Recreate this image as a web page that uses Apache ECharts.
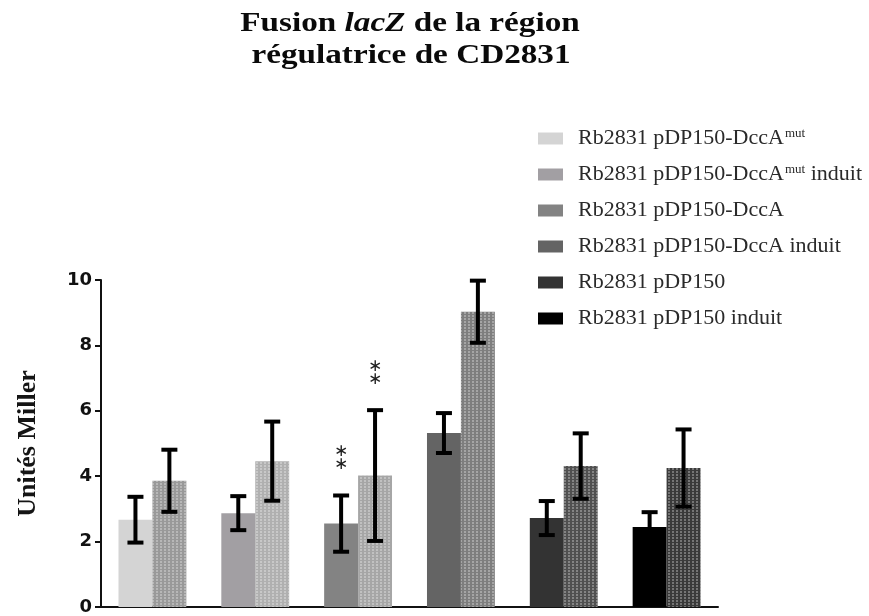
<!DOCTYPE html>
<html>
<head>
<meta charset="utf-8">
<script src="https://cdn.jsdelivr.net/npm/echarts@6/dist/echarts.min.js"></script>
<style>html,body{margin:0;padding:0;background:#fff}#c{width:869px;height:616px}</style>
</head>
<body>
<div id="c"></div>
<script>
// ---------- data ----------
var categories = ['DccAmut', 'DccAmut induit', 'DccA', 'DccA induit', 'pDP150', 'pDP150 induit'];
var solidValues   = [2.67, 2.87, 2.55, 5.32, 2.72, 2.45];
var solidErrors   = [0.70, 0.52, 0.86, 0.61, 0.52, 0.45];
var patternValues = [3.86, 4.46, 4.02, 9.03, 4.31, 4.25];
var patternErrors = [0.95, 1.21, 2.00, 0.95, 1.00, 1.18];
var solidSig   = ['', '', '**', '', '', ''];
var patternSig = ['', '', '**', '', '', ''];
var yTicks = [0, 2, 4, 6, 8, 10];
var legendMain = ['Rb2831 pDP150-DccA', 'Rb2831 pDP150-DccA', 'Rb2831 pDP150-DccA', 'Rb2831 pDP150-DccA induit', 'Rb2831 pDP150', 'Rb2831 pDP150 induit'];
var legendSup  = ['mut', 'mut', '', '', '', ''];
var legendTail = ['', ' induit', '', '', '', ''];

// ---------- styles ----------
var solidColors   = ['#d4d4d4', '#a29fa3', '#838383', '#646464', '#333333', '#000000'];
var patternColors = ['#999999', '#b0b0b0', '#a6a6a6', '#7e7e7e', '#505050', '#3a3a3a'];
var BAR_FRAC = 0.33;

var legendNames = legendMain.map(function (m, i) { return m + legendSup[i] + legendTail[i]; });
var legendRich = {};
legendNames.forEach(function (n, i) {
  legendRich[n] = '{g|}{m|' + legendMain[i] + '}' + (legendSup[i] ? '{s|' + legendSup[i] + '}' : '') + (legendTail[i] ? '{m|' + legendTail[i] + '}' : '');
});

var errData = [];
categories.forEach(function (c, i) {
  errData.push([i, solidValues[i], solidErrors[i], 0, solidSig[i]]);
  errData.push([i, patternValues[i], patternErrors[i], 1, patternSig[i]]);
});

var chart = echarts.init(document.getElementById('c'), null, { renderer: 'canvas' });

var legendSeries = legendNames.map(function (n, i) {
  return { name: n, type: 'bar', xAxisIndex: 1, yAxisIndex: 1, data: [], itemStyle: { color: solidColors[i] } };
});

var option = {
  animation: false,
  backgroundColor: '#ffffff',
  graphic: [
    { type: 'text', x: 410, y: 24, scaleX: 1.23, z: 10,
      style: { text: '{b|Fusion }{i|lacZ}{b| de la région}', align: 'center', verticalAlign: 'middle',
        rich: { b: { fontFamily: 'Liberation Serif', fontWeight: 'bold', fontSize: 27, fill: '#0a0a0a' },
                i: { fontFamily: 'Liberation Serif', fontWeight: 'bold', fontStyle: 'italic', fontSize: 27, fill: '#0a0a0a' } } } },
    { type: 'text', x: 411, y: 56, scaleX: 1.23, z: 10,
      style: { text: 'régulatrice de CD2831', align: 'center', verticalAlign: 'middle',
        fontFamily: 'Liberation Serif', fontWeight: 'bold', fontSize: 27, fill: '#0a0a0a' } }
  ],
  legend: {
    orient: 'vertical', left: 538, top: 127, padding: 0,
    itemWidth: 25, itemHeight: 12, itemGap: 13, icon: 'rect',
    data: legendNames,
    formatter: function (n) { return legendRich[n]; },
    textStyle: {
      color: '#2a2a2a', fontFamily: 'Liberation Serif', fontSize: 22, lineHeight: 23,
      rich: {
        g: { width: 10, lineHeight: 23 },
        m: { fontFamily: 'Liberation Serif', fontSize: 22, lineHeight: 23, color: '#2a2a2a' },
        s: { fontFamily: 'Liberation Serif', fontSize: 13, lineHeight: 23, verticalAlign: 'top', color: '#2a2a2a', padding: [0, 0, 8, 1] }
      }
    }
  },
  grid: { left: 101, right: 151, top: 280, bottom: 8, containLabel: false },
  xAxis: [
    { type: 'category', data: categories, boundaryGap: true,
      axisLine: { lineStyle: { color: '#111', width: 2 } },
      axisTick: { alignWithLabel: true, length: 5, lineStyle: { color: '#111', width: 2 } },
      axisLabel: { show: false }, splitLine: { show: false } },
    { type: 'category', data: [], show: false, gridIndex: 0 }
  ],
  yAxis: [
    { type: 'value', min: 0, max: 10, interval: 2,
      name: 'Unités Miller', nameLocation: 'middle', nameGap: 60,
      nameTextStyle: { fontFamily: 'Liberation Serif', fontWeight: 'bold', fontSize: 26, color: '#151515' },
      axisLine: { show: true, lineStyle: { color: '#111', width: 2 } },
      axisTick: { show: true, length: 6, lineStyle: { color: '#111', width: 2 } },
      axisLabel: { margin: 9, fontFamily: 'DejaVu Sans', fontWeight: 'bold', fontSize: 18, color: '#111',
        formatter: function (v) { return yTicks.indexOf(v) >= 0 ? String(v) : ''; } },
      splitLine: { show: false } },
    { type: 'value', show: false, gridIndex: 0 }
  ],
  series: [
    { name: 'solid', type: 'bar', barWidth: (BAR_FRAC * 100) + '%', barGap: '0%',
      data: solidValues.map(function (v, i) { return { value: v, itemStyle: { color: solidColors[i] } }; }) },
    { name: 'pattern', type: 'bar', barWidth: (BAR_FRAC * 100) + '%', barGap: '0%',
      itemStyle: { decal: { symbol: 'rect', symbolSize: 1, dashArrayX: [[2, 2]], dashArrayY: [2, 1], color: 'rgba(255,255,255,0.30)', rotation: 0 } },
      data: patternValues.map(function (v, i) { return { value: v, itemStyle: { color: patternColors[i] } }; }) },
    { name: 'err', type: 'custom', z: 5, data: errData,
      renderItem: function (params, api) {
        var ci = api.value(0), v = api.value(1), e = api.value(2), side = api.value(3);
        var sig = errData[params.dataIndex][4];
        var band = api.size([1, 0])[0];
        var bw = band * BAR_FRAC;
        var cx = api.coord([ci, 0])[0] + (side === 0 ? -bw / 2 : bw / 2);
        var yT = api.coord([ci, v + e])[1];
        var yB = api.coord([ci, v - e])[1];
        var st = { stroke: '#000', lineWidth: 4 };
        var kids = [
          { type: 'line', shape: { x1: cx, y1: yT, x2: cx, y2: yB }, style: st },
          { type: 'line', shape: { x1: cx - 8, y1: yT, x2: cx + 8, y2: yT }, style: st },
          { type: 'line', shape: { x1: cx - 8, y1: yB, x2: cx + 8, y2: yB }, style: st }
        ];
        if (sig) {
          var stars = sig.split('').map(function () { return '\u2217'; }).join('\n');
          kids.push({ type: 'text', style: { text: stars, x: cx, y: yT - 24, align: 'center', verticalAlign: 'bottom',
            fontFamily: 'DejaVu Sans', fontSize: 17, lineHeight: 13, fill: '#222' } });
        }
        return { type: 'group', children: kids };
      } }
  ].concat(legendSeries)
};
chart.setOption(option);
</script>
</body>
</html>
